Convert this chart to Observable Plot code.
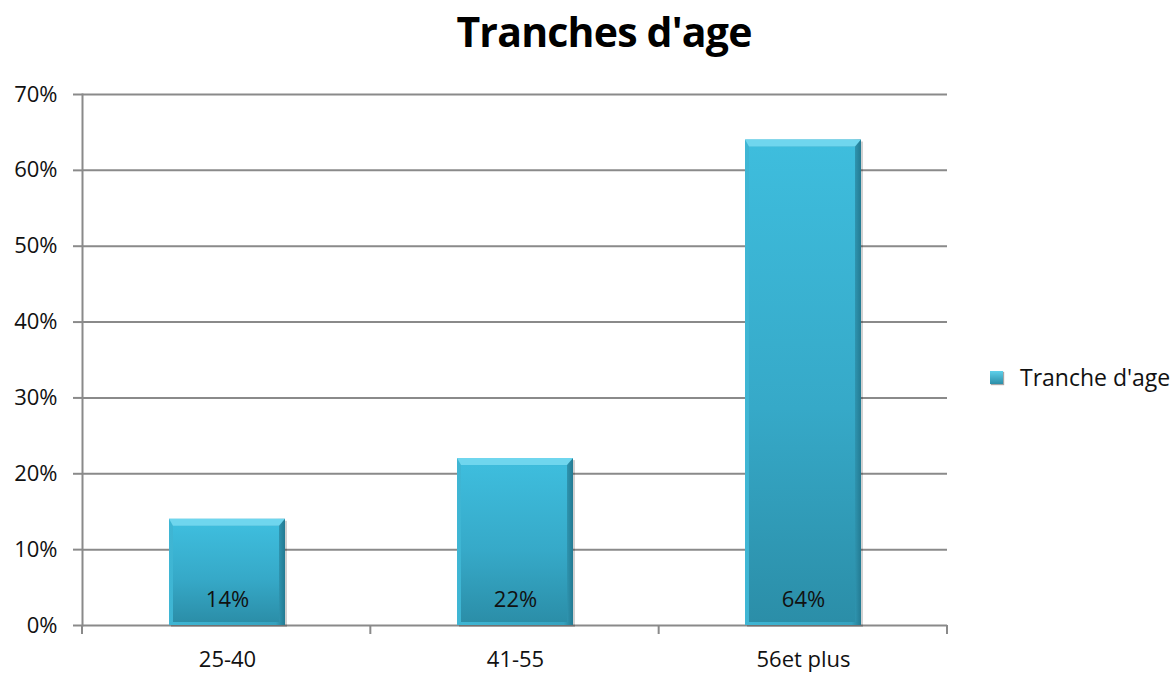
<!DOCTYPE html>
<html>
<head>
<meta charset="utf-8">
<script src="https://cdn.jsdelivr.net/npm/d3@7"></script>
<script src="https://cdn.jsdelivr.net/npm/@observablehq/plot@0.6"></script>
<style>
  html, body { margin: 0; padding: 0; background: #fff; }
  #wrap { position: relative; width: 1176px; height: 673px; font-family: "Open Sans", sans-serif; }
  #title { position: absolute; left: 0; width: 1208px; top: 3px; text-align: center;
           font-size: 41px; font-weight: 700; color: #000; letter-spacing: -0.8px; }
  #chart { position: absolute; left: 0; top: 70px; }
  #legend { position: absolute; left: 990px; top: 361px; display: flex; align-items: center;
            font-size: 23px; color: #111; white-space: nowrap; }
  #legend .sw { width: 13px; height: 13px; margin-right: 17px;
                background: linear-gradient(#5fd0ea, #2b8ea8); box-shadow: 1px 1px 1px rgba(0,0,0,.35); }
</style>
</head>
<body>
<div id="wrap">
  <div id="title">Tranches d'age</div>
  <div id="chart"></div>
  <div id="legend"><div class="sw"></div><span id="legendLabel"></span></div>
</div>
<script>
// Age brackets and their share (%)
const categories = ["25-40", "41-55", "56et plus"];
const shares = [14, 22, 64];
const seriesName = "Tranche d'age";
const yTicks = [0, 10, 20, 30, 40, 50, 60, 70];

const data = categories.map((c, i) => ({category: c, share: shares[i]}));
document.getElementById("legendLabel").textContent = seriesName;

const W = 1176, H = 603;
const M = {top: 24, right: 229, bottom: 48, left: 82};
const grid = "#8a8a8a";

// Category separators on the x axis (band edges)
function bandEdges(index, scales, values, dims) {
  const n = categories.length;
  const step = (dims.width - dims.marginLeft - dims.marginRight) / n;
  const y0 = scales.y(0);
  const g = d3.create("svg:g");
  for (let i = 0; i <= n; i++) {
    const x = dims.marginLeft + i * step;
    g.append("line").attr("x1", x).attr("x2", x).attr("y1", y0).attr("y2", y0 + 9)
      .attr("stroke", grid).attr("stroke-width", 2);
  }
  return g.node();
}

// Light bevel along the top of each bar, with slanted corners
function topBevel(index, scales, values, dims) {
  const g = d3.create("svg:g");
  const bw = scales.x.bandwidth ? scales.x.bandwidth() : 116;
  for (const d of data) {
    const x0 = scales.x(d.category), x1 = x0 + bw, y = scales.y(d.share), h = 7;
    g.append("path")
      .attr("d", `M${x0},${y}L${x1},${y}L${x1 - 6},${y + h}L${x0 + 4},${y + h}Z`)
      .attr("fill", "#6fd6ee");
  }
  return g.node();
}

const chart = Plot.plot({
  width: W,
  height: H,
  marginTop: M.top,
  marginRight: M.right,
  marginBottom: M.bottom,
  marginLeft: M.left,
  style: {fontFamily: "Open Sans, sans-serif", fontSize: "22px", color: "#111", background: "#fff", overflow: "visible"},
  x: {domain: categories, paddingInner: 0.598, paddingOuter: 0.299, label: null},
  y: {domain: [0, 70], label: null},
  marks: [
    Plot.gridY(yTicks, {stroke: grid, strokeOpacity: 1, strokeWidth: 2}),
    Plot.frame({anchor: "left", stroke: grid, strokeWidth: 2}),
    Plot.axisY(yTicks, {tickFormat: d => d + "%", tickSize: 9, tickPadding: 16, stroke: grid, strokeWidth: 2, fill: "#111", fontSize: 22, label: null}),
    Plot.axisX({tickSize: 0, tickPadding: 26, fill: "#111", fontSize: 22, label: null}),
    // drop shadow
    Plot.barY(data, {x: "category", y: "share", fill: "rgba(0,0,0,0.18)", dx: 2, dy: 2}),
    // bevelled edge
    Plot.barY(data, {x: "category", y: "share", fill: "url(#edgeGrad)"}),
    // bar face
    Plot.barY(data, {x: "category", y: "share", fill: "url(#faceGrad)", insetTop: 7, insetLeft: 4, insetRight: 6, insetBottom: 3}),
    topBevel,
    bandEdges,
    Plot.text(data, {x: "category", y: 0, text: d => d.share + "%", dy: -26, fill: "#111", fontSize: 22})
  ]
});

// gradients used by the bars
const defs = d3.select(chart).insert("defs", ":first-child");
const face = defs.append("linearGradient").attr("id", "faceGrad").attr("x1", 0).attr("y1", 0).attr("x2", 0).attr("y2", 1);
face.append("stop").attr("offset", "0%").attr("stop-color", "#3ebddd");
face.append("stop").attr("offset", "55%").attr("stop-color", "#36a9c8");
face.append("stop").attr("offset", "100%").attr("stop-color", "#2b8ea8");
const edge = defs.append("linearGradient").attr("id", "edgeGrad").attr("x1", 0).attr("y1", 0).attr("x2", 1).attr("y2", 0);
edge.append("stop").attr("offset", "0%").attr("stop-color", "#3fb6d4");
edge.append("stop").attr("offset", "92%").attr("stop-color", "#35a2bf");
edge.append("stop").attr("offset", "100%").attr("stop-color", "#237a92");

document.getElementById("chart").appendChild(chart);
</script>
</body>
</html>
